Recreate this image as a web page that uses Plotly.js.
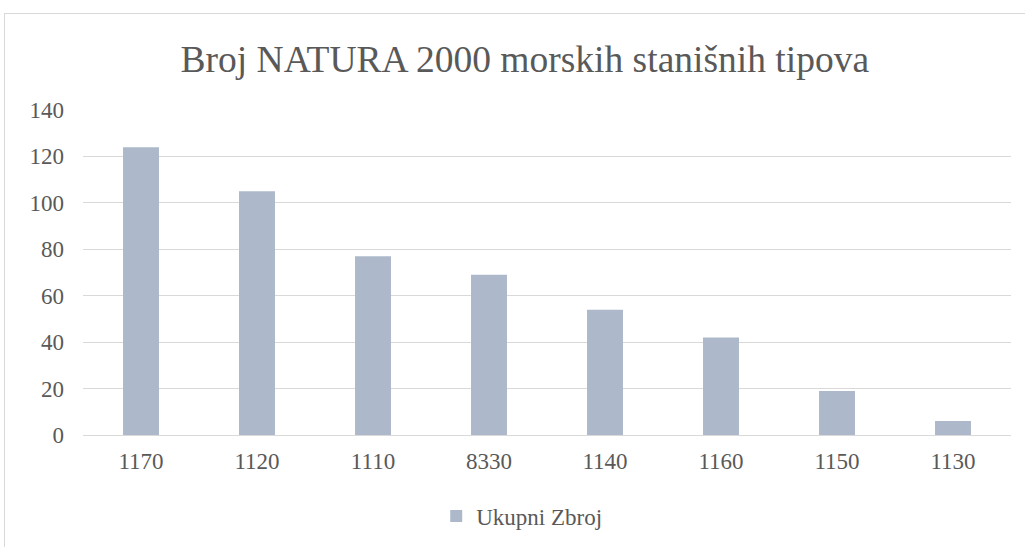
<!DOCTYPE html>
<html><head><meta charset="utf-8">
<script src="https://cdn.plot.ly/plotly-3.0.1.min.js"></script>
<style>
html,body{margin:0;padding:0;background:#fff;}
#wrap{position:relative;width:1025px;height:547px;overflow:hidden;}
#frame{position:absolute;left:4px;top:13px;width:1100px;height:600px;border:1px solid #d9d9d9;pointer-events:none;}
#chart{position:absolute;left:0;top:0;width:1025px;height:547px;}
</style></head>
<body>
<div id="wrap"><div id="chart"></div><div id="frame"></div></div>
<script>
const categories = ["1170","1120","1110","8330","1140","1160","1150","1130"];
const values = [124,105,77,69,54,42,19,6];
const seriesName = "Ukupni Zbroj";
const yTicks = [0,20,40,60,80,100,120,140];

const font = "Times New Roman, Liberation Serif, serif";
const data = [{
  type: 'bar', x: categories, y: values, name: seriesName,
  marker: {color: '#adb9ca'}, showlegend: true, hoverinfo: 'x+y'
}];
const layout = {
  width: 1025, height: 547,
  margin: {l: 83, r: 14, t: 110, b: 112},
  paper_bgcolor: 'rgba(0,0,0,0)', plot_bgcolor: 'rgba(0,0,0,0)',
  font: {family: font, color: '#595959', size: 23},
  title: {text: 'Broj NATURA 2000 morskih stanišnih tipova', font: {family: font, size: 37.5, color: '#595959'},
          x: 0.512, xref: 'container', xanchor: 'center', y: 0.893, yref: 'container', yanchor: 'middle'},
  bargap: 0.69,
  xaxis: {type: 'category', showgrid: false, zeroline: false, showline: false, ticks: '',
          tickfont: {family: font, size: 23, color: '#595959'}, ticklabelstandoff: 10},
  yaxis: {range: [0, 140], tickvals: yTicks, showgrid: true, gridcolor: '#d9d9d9', gridwidth: 1,
          zeroline: true, zerolinecolor: '#d9d9d9', zerolinewidth: 1, showline: false, ticks: '',
          tickfont: {family: font, size: 23, color: '#595959'}, ticklabelstandoff: 18},
  showlegend: true,
  legend: {orientation: 'h', x: 0.509, xref: 'container', xanchor: 'center', y: 0.0567, yref: 'container', yanchor: 'middle',
           font: {family: font, size: 23, color: '#595959'}, itemwidth: 30}
};
Plotly.newPlot('chart', data, layout, {displayModeBar: false, staticPlot: true});
</script>
</body></html>
